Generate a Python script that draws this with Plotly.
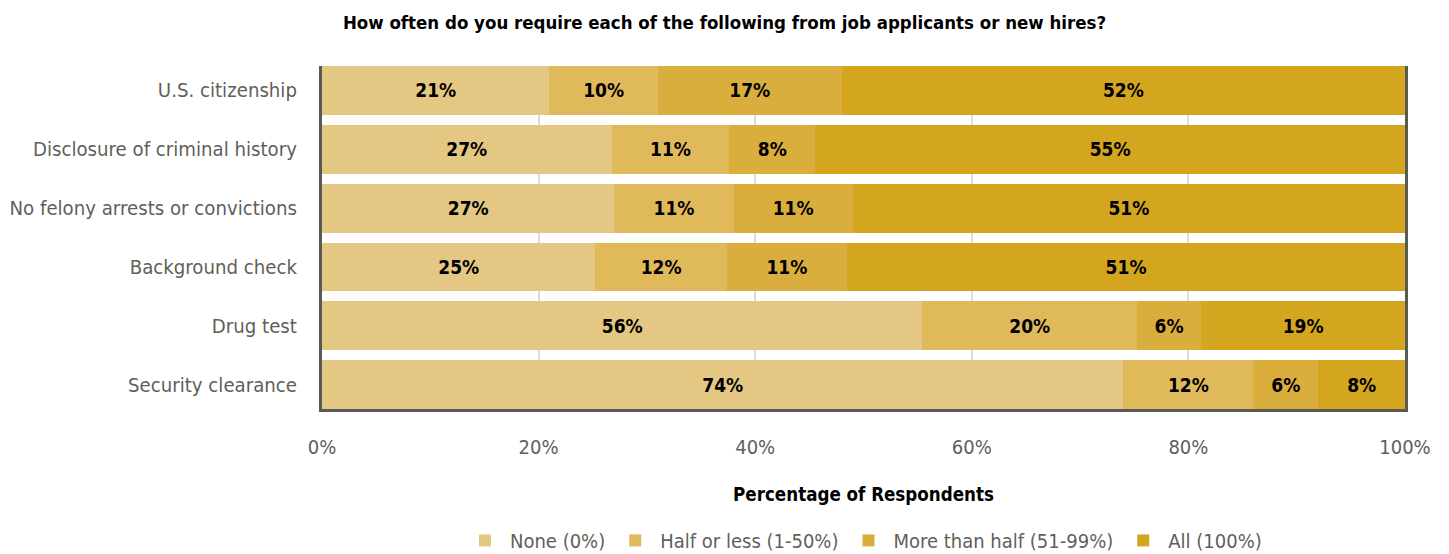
import plotly.graph_objects as go

# Survey items, listed top to bottom
items = [
    "U.S. citizenship",
    "Disclosure of criminal history",
    "No felony arrests or convictions",
    "Background check",
    "Drug test",
    "Security clearance",
]

# Share of respondents per answer (percent)
none_pct = [21, 27, 27, 25, 56, 74]
half_or_less_pct = [10, 11, 11, 12, 20, 12]
more_than_half_pct = [17, 8, 11, 11, 6, 6]
all_pct = [52, 55, 51, 51, 19, 8]

series_names = ["None (0%)", "Half or less (1-50%)", "More than half (51-99%)", "All (100%)"]
series_values = [none_pct, half_or_less_pct, more_than_half_pct, all_pct]
series_colors = ["#E4C782", "#E0BA5A", "#DAAE3C", "#D4A61F"]

x_ticks = [0, 20, 40, 60, 80, 100]
x_tick_labels = ["0%", "20%", "40%", "60%", "80%", "100%"]

FONT = "DejaVu Sans Condensed, Liberation Sans Narrow, sans-serif"

fig = go.Figure()
for name, vals, color in zip(series_names, series_values, series_colors):
    fig.add_trace(go.Bar(
        y=items,
        x=vals,
        name=name,
        orientation="h",
        marker=dict(color=color, line=dict(width=0)),
        text=[f"{v}%" for v in vals],
        textposition="inside",
        insidetextanchor="middle",
        textangle=0,
        textfont=dict(family=FONT, size=19, color="#000000", weight="bold"),
        constraintext="none",
        hoverinfo="skip",
    ))

bar_gap = 0.17
half_bar = (1 - bar_gap) / 2

fig.update_layout(
    width=1449,
    height=554,
    barmode="stack",
    barnorm="percent",
    bargap=bar_gap,
    plot_bgcolor="white",
    paper_bgcolor="white",
    margin=dict(l=322, r=44, t=66, b=145, autoexpand=False),
    font=dict(family=FONT, size=20, color="#5f5f5a"),
    title=dict(
        text="How often do you require each of the following from job applicants or new hires?",
        x=0.5,
        xanchor="center",
        y=0.96,
        yanchor="middle",
        font=dict(family=FONT, size=18.5, color="#000000", weight="bold"),
    ),
    xaxis=dict(
        range=[0, 100],
        tickvals=x_ticks,
        ticktext=x_tick_labels,
        showgrid=True,
        gridcolor="#dcdcdc",
        gridwidth=2,
        zeroline=False,
        showline=True,
        linecolor="#5a5a55",
        linewidth=3,
        mirror=False,
        ticks="",
        ticklabelstandoff=18,
        automargin=False,
        tickfont=dict(family=FONT, size=20, color="#5f5f5a"),
        title=dict(
            text="Percentage of Respondents",
            standoff=30,
            font=dict(family=FONT, size=18.6, color="#000000", weight="bold"),
        ),
        layer="below traces",
    ),
    yaxis=dict(
        categoryorder="array",
        categoryarray=items,
        range=[len(items) - 1 + half_bar, -half_bar],
        showgrid=False,
        showline=True,
        linecolor="#5a5a55",
        linewidth=3,
        mirror=True,
        ticks="",
        ticklabelstandoff=18,
        automargin=False,
        tickfont=dict(family=FONT, size=20.2, color="#5f5f5a"),
    ),
    legend=dict(
        orientation="h",
        x=0.5,
        xanchor="center",
        y=-0.44,
        yanchor="bottom",
        font=dict(family=FONT, size=20, color="#5f5f5a"),
        traceorder="normal",
        itemwidth=40,
    ),
    uniformtext=dict(mode=False),
)

fig.write_html("out.html")
